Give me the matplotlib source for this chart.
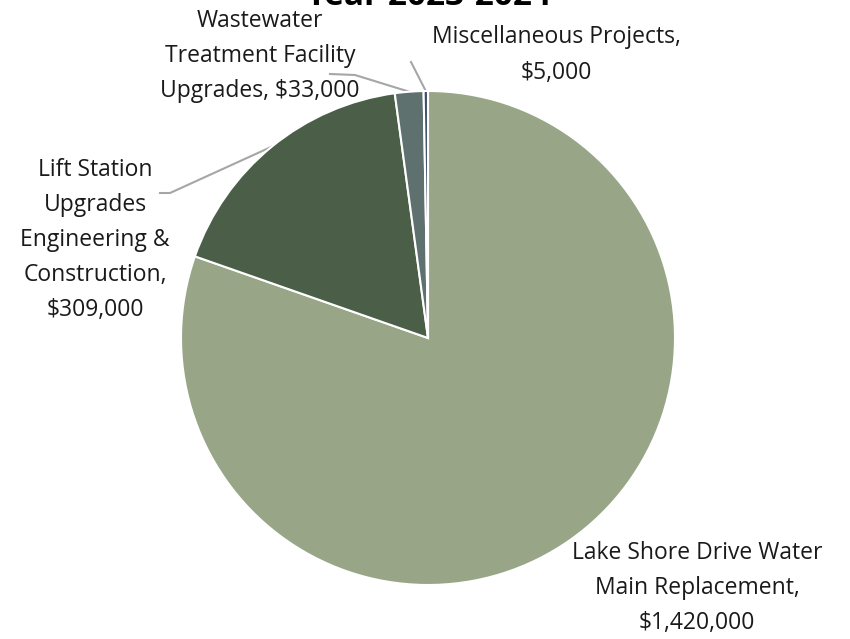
import matplotlib.pyplot as plt
import numpy as np

plt.rcParams['font.family'] = ['Open Sans', 'DejaVu Sans']

projects = ['Lake Shore Drive Water\nMain Replacement,\n$1,420,000',
            'Lift Station\nUpgrades\nEngineering &\nConstruction,\n$309,000',
            'Wastewater\nTreatment Facility\nUpgrades, $33,000',
            'Miscellaneous Projects,\n$5,000']
amounts = [1420000, 309000, 33000, 5000]
colors = ['#98a687', '#4a5e48', '#5f716f', '#3d4f6b']

# label placement (pixels, y from top) and leader elbow
label_pos = [(697, 588), (95, 240), (260, 56), (556, 55)]
elbows = [None, (170, 193), (355, 75), (411, 62)]

W, H = 850, 639
fig = plt.figure(figsize=(8.5, 6.39), dpi=100)
ax = fig.add_axes([0, 0, 1, 1])

cx, cy, r = 428, H - 338, 247
wedges, _ = ax.pie(amounts, colors=colors, startangle=90, counterclock=False,
                   center=(cx, cy), radius=r, frame=True,
                   wedgeprops=dict(edgecolor='white', linewidth=1.5))
ax.set_xlim(0, W)
ax.set_ylim(0, H)
ax.set_aspect('equal')
ax.axis('off')

for w, lab, (lx, ly), el in zip(wedges, projects, label_pos, elbows):
    ax.text(lx, H - ly, lab, ha='center', va='center', fontsize=16.5,
            color='#1a1a1a', linespacing=1.62)
    if el is not None:
        mid = np.deg2rad((w.theta1 + w.theta2) / 2)
        px, py = cx + r * np.cos(mid), cy + r * np.sin(mid)
        pts = [(el[0], H - el[1]), (px, py)]
        if lab.startswith('Lift'):
            pts = [(el[0] - 10, H - el[1])] + pts
        if lab.startswith('Waste'):
            pts = [(el[0] - 25, H - el[1] + 1)] + pts
        xs, ys = zip(*pts)
        ax.plot(xs, ys, color='#a6a6a6', lw=1.5, zorder=0.5)

ax.text(W / 2 + 3, H - 5, 'Year 2023-2024', ha='center', va='baseline',
        fontsize=24, fontweight='bold', color='black')

plt.savefig('out.png', dpi=100)
